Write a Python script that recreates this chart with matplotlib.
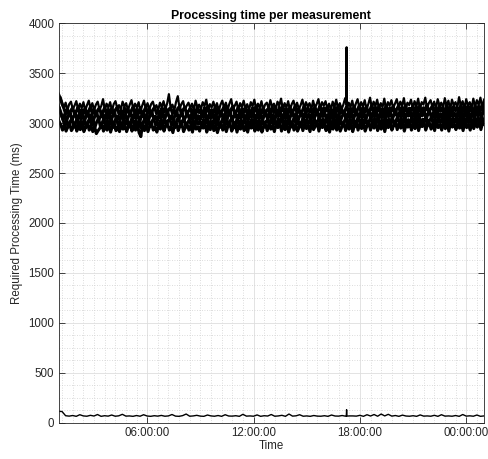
import matplotlib
matplotlib.use("Agg")
import matplotlib.pyplot as plt
import matplotlib.dates as mdates
from matplotlib.ticker import MultipleLocator, FixedLocator
import numpy as np
import pandas as pd

plt.rcParams['font.family'] = ['Liberation Sans', 'DejaVu Sans']

# time span of the recording (samples evenly spread over it)
t_start = '2020-01-01 01:00'
t_end = '2020-01-02 01:00'

# sampling offset of each channel relative to the common clock (minutes)
delay_s1, delay_s2, delay_s3, delay_s4, delay_s5, delay_low = 0.0, 6.0, -3.0, 3.0, -4.5, 0.0

# extra samples around the spike near 17:15
spike_times = ['2020-01-01 17:14', '2020-01-01 17:15', '2020-01-01 17:16']

# processing times (ms) for each measurement channel
s1 = [3300, 3260, 3210, 3150, 3205, 3130, 3190, 3215, 3140, 3175,
      3220, 3135, 3195, 3150, 3210, 3125, 3180, 3225, 3145, 3200,
      3130, 3185, 3215, 3140, 3170, 3240, 3135, 3195, 3155, 3210,
      3125, 3190, 3220, 3150, 3180, 3135, 3215, 3165, 3200, 3130,
      3185, 3230, 3140, 3195, 3155, 3210, 3120, 3175, 3225, 3145,
      3200, 3135, 3190, 3215, 3150, 3180, 3130, 3205, 3160, 3220,
      3140, 3195, 3290, 3150, 3185, 3125, 3210, 3270, 3145, 3190,
      3220, 3135, 3175, 3205, 3150, 3195, 3130, 3225, 3160, 3185,
      3140, 3210, 3170, 3235, 3130, 3190, 3155, 3215, 3145, 3200,
      3125, 3185, 3225, 3150, 3205, 3135, 3195, 3240, 3140, 3175,
      3215, 3130, 3200, 3160, 3225, 3145, 3190, 3130, 3210, 3170,
      3235, 3140, 3195, 3150, 3220, 3130, 3185, 3205, 3145, 3230,
      3160, 3195, 3135, 3215, 3175, 3245, 3140, 3200, 3155, 3220,
      3130, 3190, 3225, 3150, 3205, 3140, 3180, 3235, 3145, 3210,
      3165, 3200, 3135, 3225, 3155, 3190, 3240, 3140, 3210, 3175,
      3220, 3145, 3195, 3130, 3215, 3160, 3235, 3150, 3200, 3140,
      3185, 3250, 3145, 3205, 3160, 3225, 3135, 3195, 3240, 3150,
      3210, 3165, 3230, 3140, 3190, 3255, 3150, 3215, 3170, 3235,
      3145, 3200, 3160, 3245, 3135, 3210, 3175, 3230, 3150, 3195,
      3240, 3155, 3215, 3170, 3250, 3140, 3205, 3180, 3235, 3150,
      3220, 3165, 3245, 3145, 3210, 3185, 3255, 3150, 3200, 3230,
      3160, 3215, 3145, 3240, 3175, 3205, 3150, 3250, 3165, 3225,
      3140, 3235, 3180, 3210, 3155, 3260, 3170, 3220, 3145, 3240,
      3175, 3210, 3150, 3245, 3165, 3230, 3180, 3255, 3155, 3235]
s1_spike = [3190, 3760, 3180]

s2 = [3250, 3190, 3150, 3090, 3140, 3075, 3130, 3155, 3085, 3120,
      3160, 3080, 3135, 3095, 3150, 3070, 3125, 3165, 3090, 3140,
      3075, 3130, 3155, 3085, 3115, 3160, 3080, 3140, 3095, 3150,
      3070, 3135, 3160, 3090, 3125, 3080, 3155, 3105, 3145, 3075,
      3130, 3165, 3085, 3140, 3100, 3155, 3065, 3120, 3160, 3090,
      3145, 3080, 3135, 3160, 3095, 3125, 3075, 3150, 3105, 3165,
      3085, 3140, 3155, 3095, 3130, 3070, 3150, 3165, 3090, 3135,
      3160, 3080, 3120, 3150, 3095, 3140, 3075, 3165, 3105, 3130,
      3085, 3155, 3115, 3170, 3075, 3135, 3100, 3160, 3090, 3145,
      3070, 3130, 3165, 3095, 3150, 3080, 3140, 3170, 3085, 3120,
      3160, 3075, 3145, 3105, 3165, 3090, 3135, 3075, 3155, 3115,
      3170, 3085, 3140, 3095, 3160, 3075, 3130, 3150, 3090, 3165,
      3105, 3140, 3080, 3160, 3120, 3175, 3085, 3145, 3100, 3165,
      3075, 3135, 3170, 3095, 3150, 3085, 3125, 3170, 3090, 3155,
      3110, 3145, 3080, 3170, 3100, 3135, 3175, 3085, 3155, 3120,
      3165, 3090, 3140, 3075, 3160, 3105, 3175, 3095, 3145, 3085,
      3130, 3175, 3090, 3150, 3105, 3170, 3080, 3140, 3175, 3095,
      3155, 3110, 3170, 3085, 3135, 3180, 3095, 3160, 3115, 3175,
      3090, 3145, 3105, 3180, 3080, 3155, 3120, 3170, 3095, 3140,
      3175, 3100, 3160, 3115, 3180, 3085, 3150, 3125, 3170, 3095,
      3165, 3110, 3180, 3090, 3155, 3130, 3185, 3095, 3145, 3170,
      3105, 3160, 3090, 3175, 3120, 3150, 3095, 3180, 3110, 3165,
      3085, 3170, 3125, 3155, 3100, 3185, 3115, 3165, 3090, 3175,
      3120, 3155, 3095, 3180, 3110, 3170, 3125, 3185, 3100, 3170]

s3 = [3200, 3140, 3095, 3035, 3090, 3020, 3075, 3105, 3030, 3065,
      3110, 3025, 3080, 3040, 3100, 3015, 3070, 3110, 3035, 3085,
      3020, 3075, 3105, 3030, 3060, 3110, 3025, 3085, 3040, 3100,
      3015, 3080, 3110, 3035, 3070, 3025, 3100, 3050, 3090, 3020,
      3075, 3115, 3030, 3085, 3045, 3100, 3010, 3065, 3110, 3035,
      3090, 3025, 3080, 3105, 3040, 3070, 3020, 3095, 3050, 3110,
      3030, 3085, 3100, 3040, 3075, 3015, 3095, 3110, 3035, 3080,
      3105, 3025, 3065, 3095, 3040, 3085, 3020, 3110, 3050, 3075,
      3030, 3100, 3060, 3115, 3020, 3080, 3045, 3105, 3035, 3090,
      3015, 3075, 3110, 3040, 3095, 3025, 3085, 3115, 3030, 3065,
      3105, 3020, 3090, 3050, 3110, 3035, 3080, 3020, 3100, 3060,
      3115, 3030, 3085, 3040, 3105, 3020, 3075, 3095, 3035, 3110,
      3050, 3085, 3025, 3105, 3065, 3120, 3030, 3090, 3045, 3110,
      3020, 3080, 3115, 3040, 3095, 3030, 3070, 3115, 3035, 3100,
      3055, 3090, 3025, 3115, 3045, 3080, 3120, 3030, 3100, 3065,
      3110, 3035, 3085, 3020, 3105, 3050, 3120, 3040, 3090, 3030,
      3075, 3120, 3035, 3095, 3050, 3115, 3025, 3085, 3120, 3040,
      3100, 3055, 3115, 3030, 3080, 3125, 3040, 3105, 3060, 3120,
      3035, 3090, 3050, 3125, 3025, 3100, 3065, 3115, 3040, 3085,
      3120, 3045, 3105, 3060, 3125, 3030, 3095, 3070, 3115, 3040,
      3110, 3055, 3125, 3035, 3100, 3075, 3130, 3040, 3090, 3115,
      3050, 3105, 3035, 3120, 3065, 3095, 3040, 3125, 3055, 3110,
      3030, 3115, 3070, 3100, 3045, 3130, 3060, 3110, 3035, 3120,
      3065, 3100, 3040, 3125, 3055, 3115, 3070, 3130, 3045, 3115]

s4 = [3150, 3080, 3035, 2975, 3030, 2960, 3015, 3045, 2970, 3005,
      3050, 2965, 3020, 2980, 3040, 2955, 3010, 3050, 2975, 3025,
      2960, 3015, 3045, 2970, 3000, 3050, 2965, 3025, 2980, 3040,
      2955, 3020, 3050, 2975, 3010, 2965, 3040, 2990, 3030, 2960,
      3015, 3055, 2970, 3025, 2940, 3040, 2950, 3005, 3050, 2975,
      3030, 2965, 3020, 3045, 2980, 3010, 2960, 3035, 2990, 3050,
      2970, 3025, 3040, 2980, 3015, 2955, 3035, 3050, 2975, 3020,
      3045, 2965, 3005, 3035, 2980, 3025, 2960, 3050, 2990, 3015,
      2970, 3040, 3000, 3055, 2960, 3020, 2985, 3045, 2975, 3030,
      2955, 3015, 3050, 2980, 3035, 2965, 3025, 3055, 2970, 3005,
      3045, 2960, 3030, 2990, 3050, 2975, 3020, 2960, 3040, 3000,
      3055, 2970, 3025, 2980, 3045, 2960, 3015, 3035, 2975, 3050,
      2990, 3025, 2965, 3045, 3005, 3060, 2970, 3030, 2985, 3050,
      2960, 3020, 3055, 2980, 3035, 2970, 3010, 3055, 2975, 3040,
      2995, 3030, 2965, 3055, 2985, 3020, 3060, 2970, 3040, 3005,
      3050, 2975, 3025, 2960, 3045, 2990, 3060, 2980, 3030, 2970,
      3015, 3060, 2975, 3035, 2990, 3055, 2965, 3025, 3060, 2980,
      3040, 2995, 3055, 2970, 3020, 3065, 2980, 3045, 3000, 3060,
      2975, 3030, 2990, 3065, 2965, 3040, 3005, 3055, 2980, 3025,
      3060, 2985, 3045, 3000, 3065, 2970, 3035, 3010, 3055, 2980,
      3050, 2995, 3065, 2975, 3040, 3015, 3070, 2980, 3030, 3055,
      2990, 3045, 2975, 3060, 3005, 3035, 2980, 3065, 2995, 3050,
      2970, 3055, 3010, 3040, 2985, 3070, 3000, 3050, 2975, 3060,
      3005, 3040, 2980, 3065, 2995, 3055, 3010, 3070, 2985, 3055]

s5 = [3090, 3020, 2985, 2930, 2980, 2920, 2965, 2995, 2925, 2955,
      3000, 2920, 2970, 2935, 2990, 2915, 2960, 3000, 2930, 2975,
      2915, 2965, 2895, 2925, 2950, 3000, 2920, 2975, 2930, 2990,
      2910, 2970, 3000, 2925, 2960, 2915, 2990, 2940, 2980, 2915,
      2965, 3005, 2920, 2975, 2930, 2990, 2905, 2865, 3000, 2925,
      2980, 2915, 2970, 2995, 2930, 2960, 2910, 2985, 2940, 3000,
      2920, 2975, 2990, 2930, 2965, 2905, 2985, 3000, 2925, 2970,
      2995, 2915, 2955, 2985, 2930, 2975, 2910, 3000, 2940, 2965,
      2920, 2990, 2950, 3005, 2910, 2970, 2935, 2995, 2925, 2980,
      2905, 2965, 3000, 2930, 2985, 2915, 2975, 3005, 2920, 2955,
      2995, 2910, 2980, 2940, 3000, 2925, 2970, 2910, 2990, 2950,
      3005, 2920, 2975, 2930, 2995, 2910, 2965, 2985, 2925, 3000,
      2940, 2975, 2915, 2995, 2955, 3010, 2920, 2980, 2935, 3000,
      2910, 2970, 3005, 2930, 2985, 2920, 2960, 3005, 2925, 2990,
      2945, 2980, 2915, 3005, 2935, 2970, 3010, 2920, 2990, 2955,
      3000, 2925, 2975, 2910, 2995, 2940, 3010, 2930, 2980, 2920,
      2965, 3010, 2925, 2985, 2940, 3005, 2915, 2975, 3010, 2930,
      2990, 2945, 3005, 2920, 2970, 3015, 2930, 2995, 2950, 3010,
      2925, 2980, 2940, 3015, 2915, 2990, 2955, 3005, 2930, 2975,
      3010, 2935, 2995, 2950, 3015, 2920, 2985, 2960, 3005, 2930,
      3000, 2945, 3015, 2925, 2990, 2965, 3020, 2930, 2980, 3005,
      2940, 2995, 2925, 3010, 2955, 2985, 2930, 3015, 2945, 3000,
      2920, 3005, 2960, 2990, 2935, 3020, 2950, 3000, 2925, 3010,
      2955, 2990, 2930, 3015, 2945, 3005, 2960, 3020, 2935, 3005]

s_low = [112, 110, 68, 64, 70, 62, 78, 66, 63, 72,
         65, 80, 62, 68, 64, 75, 63, 67, 82, 64,
         66, 62, 70, 63, 78, 65, 62, 68, 64, 71,
         63, 66, 80, 64, 62, 69, 85, 63, 66, 72,
         64, 62, 75, 66, 63, 70, 62, 78, 65, 64,
         68, 62, 82, 64, 66, 63, 76, 62, 68, 65,
         80, 63, 66, 72, 62, 85, 64, 67, 78, 63,
         66, 62, 70, 64, 63, 68, 62, 75, 65, 64,
         70, 63, 66, 66, 64, 72, 62, 78, 65, 80,
         63, 85, 66, 82, 64, 70, 62, 74, 65, 63,
         68, 62, 76, 64, 66, 63, 72, 62, 78, 64,
         66, 63, 70, 62, 80, 64, 67, 63, 75, 62, 66]
s_low_spike = [66, 128, 64]

sp_times = pd.to_datetime(spike_times)


def merged(vals, delay_min, extra=None):
    d = pd.Timedelta(minutes=delay_min)
    t = list(pd.date_range(pd.Timestamp(t_start) + d, pd.Timestamp(t_end) + d,
                           periods=len(vals)))
    v = list(vals)
    if extra is not None:
        t += list(sp_times)
        v += list(extra)
    t = np.array(t, dtype='datetime64[ns]')
    order = np.argsort(t)
    return t[order], np.array(v)[order]


fig = plt.figure(figsize=(4.88, 4.59), dpi=100)
ax = fig.add_axes([0.1199, 0.0795, 0.8719, 0.8697])

series = [(s5, delay_s5, None, 2.2), (s4, delay_s4, None, 2.2),
          (s3, delay_s3, None, 2.2), (s2, delay_s2, None, 2.2),
          (s1, delay_s1, s1_spike, 1.6), (s_low, delay_low, s_low_spike, 1.0)]
for vals, dly, extra, lw in series:
    t, v = merged(vals, dly, extra)
    ax.plot(t, v, color='black', lw=lw)

ax.set_xlim(pd.Timestamp(t_start), pd.Timestamp(t_end))
ax.set_ylim(0, 4000)
ax.yaxis.set_major_locator(MultipleLocator(500))
ax.yaxis.set_minor_locator(MultipleLocator(125))
major_x = pd.to_datetime(['2020-01-01 06:00', '2020-01-01 12:00',
                          '2020-01-01 18:00', '2020-01-02 00:00'])
ax.xaxis.set_major_locator(FixedLocator(mdates.date2num(major_x)))
ax.xaxis.set_minor_locator(MultipleLocator(36 / 1440))
ax.xaxis.set_major_formatter(mdates.DateFormatter('%H:%M:%S'))

axis_col = '#262626'
ax.grid(True, which='major', color='#dedede', lw=0.6, ls='-')
ax.grid(True, which='minor', color='#d0d0d0', lw=0.6, ls=(0, (1, 2)))
ax.set_axisbelow(True)
ax.tick_params(which='major', direction='in', length=4, width=0.6,
               top=True, right=True, colors=axis_col, labelsize=8.3, pad=3)
ax.tick_params(which='minor', length=0, top=True, right=True)
for sp in ax.spines.values():
    sp.set_color(axis_col)
    sp.set_linewidth(0.6)

ax.set_title('Processing time per measurement', fontsize=8.8,
             fontweight='bold', color='black', pad=3)
ax.set_xlabel('Time', fontsize=8.3, color=axis_col, labelpad=1)
ax.set_ylabel('Required Processing Time (ms)', fontsize=8.3,
              color=axis_col, labelpad=4)

fig.savefig('out.png', dpi=100)
